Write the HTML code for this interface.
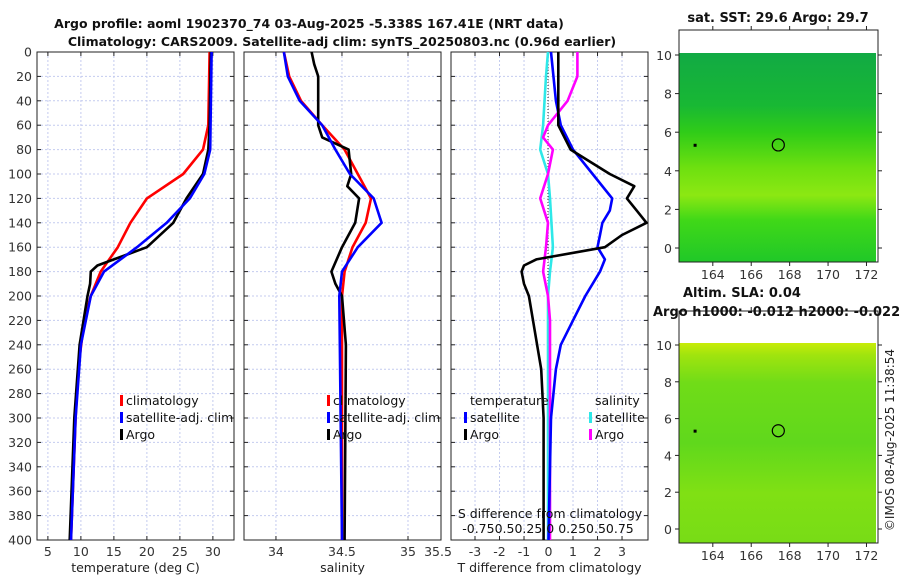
<!DOCTYPE html>
<html><head><meta charset="utf-8"><style>
body{margin:0;background:#fff;}
svg text{font-family:"DejaVu Sans","Liberation Sans",sans-serif;}
</style></head><body>
<svg id="c" width="900" height="580" xmlns="http://www.w3.org/2000/svg">
<defs>
<linearGradient id="g1" x1="0" y1="0" x2="0" y2="1">
<stop offset="0" stop-color="#12aa44"/><stop offset="0.25" stop-color="#18b834"/><stop offset="0.38" stop-color="#30cc18"/>
<stop offset="0.55" stop-color="#6ee010"/><stop offset="0.68" stop-color="#8ce812"/><stop offset="0.8" stop-color="#40d818"/><stop offset="1" stop-color="#20c828"/>
</linearGradient>
<linearGradient id="g2" x1="0" y1="0" x2="0" y2="1">
<stop offset="0" stop-color="#c8ec08"/><stop offset="0.06" stop-color="#a0e40e"/><stop offset="0.2" stop-color="#70dc18"/>
<stop offset="0.5" stop-color="#60d81c"/><stop offset="0.75" stop-color="#80e014"/><stop offset="1" stop-color="#78dc16"/>
</linearGradient>
</defs>
<g font-weight="bold" font-size="12.5" text-anchor="middle" fill="#111">
<text x="309" y="28">Argo profile: aoml 1902370_74 03-Aug-2025 -5.338S 167.41E (NRT data)</text>
<text x="342" y="46">Climatology: CARS2009. Satellite-adj clim: synTS_20250803.nc (0.96d earlier)</text>
</g>
<g id="plots"></g>
</svg>
<script>
// ---- data ----
const depthTicks=[0,20,40,60,80,100,120,140,160,180,200,220,240,260,280,300,320,340,360,380,400];
const tempTicks=[5,10,15,20,25,30];
const salTicks=[34,34.5,35];
const diffTicks=[-3,-2,-1,0,1,2,3];
const tClimD=[0,60,80,100,120,140,160,180,200,220,260,300,400];
const tClim=[29.5,29.3,28.5,25.5,20,17.5,15.6,13,11.5,10.5,9.6,9.2,8.5];
const tSatD=[0,80,100,120,140,160,180,200,240,300,400];
const tSat=[29.8,29.6,28.7,26.5,23,18.5,13.5,11.5,10,9.2,8.5];
const tArgoD=[0,60,80,100,120,140,160,170,175,180,190,200,240,300,400];
const tArgo=[29.7,29.5,29.3,28.5,26,24,20,15,12.5,11.5,11.4,11,9.8,9,8.3];
const sClimD=[0,20,40,60,80,100,120,140,160,180,200,400];
const sClim=[34.06,34.1,34.19,34.35,34.52,34.62,34.72,34.68,34.58,34.52,34.5,34.5];
const sSatD=[0,20,40,60,80,100,120,140,160,180,200,400];
const sSat=[34.06,34.09,34.18,34.35,34.45,34.56,34.74,34.8,34.62,34.5,34.48,34.5];
const sArgoD=[0,10,20,60,70,80,100,110,120,140,160,180,190,200,240,400];
const sArgo=[34.27,34.29,34.32,34.32,34.35,34.55,34.57,34.54,34.63,34.6,34.5,34.42,34.45,34.5,34.53,34.52];
const dTArgoD=[0,60,80,100,110,120,140,150,160,170,175,180,190,200,260,300,400];
const dTArgo=[0.4,0.4,0.9,2.5,3.5,3.2,4,3,2.3,-0.5,-1,-1.1,-1,-0.8,-0.3,-0.2,-0.2];
const dTSatD=[0,40,60,80,100,120,130,140,150,160,170,180,200,220,240,260,300,400];
const dTSat=[0.1,0.3,0.5,1,1.8,2.6,2.5,2.2,2.1,2,2.3,2.1,1.5,1,0.5,0.3,0.1,0];
const dSSatD=[0,20,60,80,100,120,160,180,200,400];
const dSSat=[0,-0.02,-0.05,-0.08,0,0.02,0.05,0.02,0,0];
const dSArgoD=[0,20,40,60,70,80,100,120,140,160,180,200,220,400];
const dSArgo=[0.3,0.3,0.2,0,-0.05,0.05,0,-0.08,0,-0.02,-0.05,0,0.02,0.02];
const mapLonTicks=[164,166,168,170,172];
const mapLatTicks=[0,2,4,6,8,10];
const argoPos=[167.41,5.34];

const NS='http://www.w3.org/2000/svg';
const root=document.getElementById('plots');
function el(tag,attrs,parent,txt){const e=document.createElementNS(NS,tag);for(const k in attrs)e.setAttribute(k,attrs[k]);if(txt!==undefined)e.textContent=txt;(parent||root).appendChild(e);return e;}
const yTop=52,yBot=540;
const yD=d=>yTop+(yBot-yTop)*d/400;

function panel(name,x0,x1,dom,xt,xlab,showY){
  const g=el('g',{});
  
  
  const xs=v=>x0+(x1-x0)*(v-dom[0])/(dom[1]-dom[0]);
  depthTicks.forEach(d=>{
    const l=el('line',{x1:x0,x2:x1,y1:yD(d),y2:yD(d),stroke:'#c4cbef','stroke-width':1,'stroke-dasharray':'2,2'},g);
    
    
    el('line',{x1:x0,x2:x0+4,y1:yD(d),y2:yD(d),stroke:'#222'},g);
    el('line',{x1:x1-4,x2:x1,y1:yD(d),y2:yD(d),stroke:'#222'},g);
    if(showY){const t=el('text',{x:x0-5,y:yD(d)+4.5,'text-anchor':'end','font-size':12.5,fill:'#333'},g,d);
      
      }
  });
  xt.forEach(v=>{
    el('line',{x1:xs(v),x2:xs(v),y1:yTop,y2:yBot,stroke:'#c4cbef','stroke-dasharray':'2,2'},g);
    el('line',{x1:xs(v),x2:xs(v),y1:yBot,y2:yBot-4,stroke:'#222'},g);
    el('line',{x1:xs(v),x2:xs(v),y1:yTop,y2:yTop+4,stroke:'#222'},g);
    const t=el('text',{x:xs(v),y:556,'text-anchor':'middle','font-size':12.5,fill:'#333'},g,v);
    
    
  });
  el('rect',{x:x0,y:yTop,width:x1-x0,height:yBot-yTop,fill:'none',stroke:'#222','stroke-width':1},g);
  const xl=el('text',{x:(x0+x1)/2,y:572,'text-anchor':'middle','font-size':12.5,fill:'#222'},g,xlab);
  
  
  return {g,xs};
}
function line(p,ds,vs,color,name,scale){
  const pts=ds.map((d,i)=>(scale?scale(vs[i]):p.xs(vs[i])).toFixed(1)+','+yD(d).toFixed(1)).join(' ');
  const l=el('polyline',{points:pts,fill:'none',stroke:color,'stroke-width':2.6,'stroke-linejoin':'round'},p.g);
  
  
}
function legend(g,x,y,color,label){
  el('rect',{x:x,y:y-10,width:3,height:11,fill:color},g);
  const t=el('text',{x:x+6,y:y,'font-size':12.5,fill:'#111'},g,label);
  
  
}
// panel 1
const p1=panel('temperature-panel',37,234,[3.35,33.2],tempTicks,'temperature (deg C)',true);
line(p1,tClimD,tClim,'#f00','climatology-temp-line');
line(p1,tArgoD,tArgo,'#000','argo-temp-line');
line(p1,tSatD,tSat,'#00f','satellite-temp-line');
legend(p1.g,120,405,'#f00','climatology');
legend(p1.g,120,422,'#00f','satellite-adj. clim');
legend(p1.g,120,439,'#000','Argo');
// panel 2
const p2=panel('salinity-panel',244,441,[33.758,35.25],salTicks,'salinity',false);
el('text',{x:438,y:556,'text-anchor':'middle','font-size':12.5,fill:'#333'},p2.g,'35.5');
line(p2,sClimD,sClim,'#f00','climatology-salinity-line');
line(p2,sArgoD,sArgo,'#000','argo-salinity-line');
line(p2,sSatD,sSat,'#00f','satellite-salinity-line');
legend(p2.g,327,405,'#f00','climatology');
legend(p2.g,327,422,'#00f','satellite-adj. clim');
legend(p2.g,327,439,'#000','Argo');
// panel 3
const p3=panel('difference-panel',451,648,[-3.98,4.06],diffTicks,'T difference from climatology',false);
const sScale=v=>548+98*v;
el('line',{x1:548,x2:548,y1:yTop,y2:yBot,stroke:'#333','stroke-dasharray':'1,2'},p3.g);
line(p3,dSSatD,dSSat,'#2ee8e8','satellite-salinity-diff-line',sScale);
line(p3,dSArgoD,dSArgo,'#f0f','argo-salinity-diff-line',sScale);
line(p3,dTSatD,dTSat,'#00f','satellite-temp-diff-line');
line(p3,dTArgoD,dTArgo,'#000','argo-temp-diff-line');
el('text',{x:470,y:405,'font-size':12.5,fill:'#111'},p3.g,'temperature');
el('text',{x:595,y:405,'font-size':12.5,fill:'#111'},p3.g,'salinity');
legend(p3.g,464,422,'#00f','satellite');
legend(p3.g,464,439,'#000','Argo');
legend(p3.g,589,422,'#2ee8e8','satellite');
legend(p3.g,589,439,'#f0f','Argo');
const st=el('text',{x:550,y:518,'text-anchor':'middle','font-size':12.5,fill:'#111'},p3.g,'S difference from climatology');


el('text',{x:548,y:533,'text-anchor':'middle','font-size':12.5,fill:'#111'},p3.g,'-0.750.50.25 0  0.250.50.75');

// maps
function map(name,y0,y1,dataTop,grad,title,ty,tx){
  const x0=679,x1=878;
  const g=el('g',{});
  
  
  const lon=v=>x0+(v-162.24)*(x1-x0)/(172.6-162.24);
  const lat=v=>(y1-14)-(v)*(y1-14-(dataTop+2))/10;
  el('rect',{x:x0,y:dataTop,width:x1-x0-2,height:y1-dataTop,fill:'url(#'+grad+')'},g);
  el('rect',{x:x0,y:y0,width:x1-x0,height:y1-y0,fill:'none',stroke:'#222'},g);
  mapLatTicks.forEach(v=>{el('line',{x1:x0-4,x2:x0,y1:lat(v),y2:lat(v),stroke:'#222'},g);el('line',{x1:x1,x2:x1+4,y1:lat(v),y2:lat(v),stroke:'#222'},g);
    el('text',{x:x0-7,y:lat(v)+5,'text-anchor':'end','font-size':12.5,fill:'#333'},g,v);});
  mapLonTicks.forEach(v=>{el('line',{x1:lon(v),x2:lon(v),y1:y1,y2:y1+4,stroke:'#222'},g);el('line',{x1:lon(v),x2:lon(v),y1:y0,y2:y0-4,stroke:'#222'},g);
    el('text',{x:lon(v),y:y1+17,'text-anchor':'middle','font-size':12.5,fill:'#333'},g,v);});
  const c=el('circle',{cx:lon(argoPos[0]),cy:lat(argoPos[1]),r:6,fill:'none',stroke:'#000','stroke-width':1.2},g);
  
  
  el('rect',{x:lon(163),y:lat(5.4),width:3,height:3,fill:'#000'},g);
  const t=el('text',{x:tx,y:ty,'text-anchor':tx>700?'middle':'start','font-size':13,'font-weight':'bold',fill:'#111'},g,title);
  
  
}
map('sst-map',30,262,53,'g1','sat. SST: 29.6 Argo: 29.7',22,778);
map('sla-map',311,543,343,'g2','Argo h1000: -0.012 h2000: -0.022',316,653);
const sl=el('text',{x:683,y:297,'font-size':13,'font-weight':'bold',fill:'#111'},root,'Altim. SLA: 0.04');


const cr=el('text',{x:0,y:0,'font-size':12,fill:'#222','text-anchor':'middle',transform:'translate(894,440) rotate(-90)'},root,'©IMOS 08-Aug-2025 11:38:54');


</script>
</body></html>
